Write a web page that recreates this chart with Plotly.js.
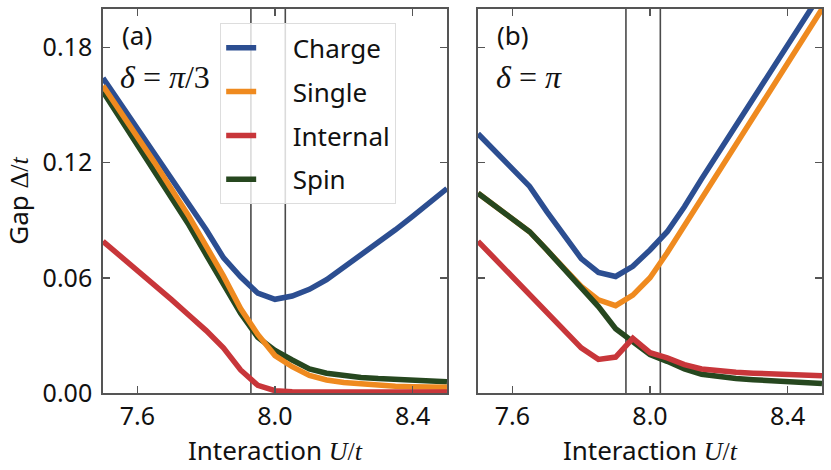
<!DOCTYPE html>
<html>
<head>
<meta charset="utf-8">
<script src="https://cdn.plot.ly/plotly-3.0.1.min.js"></script>
<style>html,body{margin:0;padding:0;background:#fff;}#chart{width:831px;height:470px;}</style>
</head>
<body>
<div id="chart"></div>
<script>
// Interaction values (shared grid)
const U = [7.50,7.55,7.60,7.65,7.70,7.75,7.80,7.85,7.90,7.95,8.00,8.05,8.10,8.15,8.20,8.25,8.30,8.35,8.40,8.45,8.50];

// Panel (a): delta = pi/3
const chargeA   = [0.164,0.151,0.138,0.125,0.1115,0.098,0.085,0.0705,0.0605,0.052,0.0488,0.0505,0.054,0.059,0.0655,0.072,0.078,0.085,0.092,0.099,0.1065];
const singleA   = [0.160,0.147,0.133,0.120,0.106,0.092,0.0765,0.061,0.0440,0.0305,0.0195,0.0137,0.0092,0.0068,0.0055,0.0046,0.0040,0.0035,0.0033,0.0031,0.0030];
const internalA = [0.079,0.0715,0.064,0.0565,0.0485,0.0405,0.0325,0.0235,0.012,0.004,0.0012,0.0007,0.0006,0.0006,0.0005,0.0005,0.0005,0.0005,0.0005,0.0005,0.0005];
const spinA     = [0.157,0.143,0.129,0.115,0.1015,0.0875,0.072,0.057,0.0415,0.029,0.0222,0.0172,0.0125,0.0103,0.009,0.0081,0.0075,0.0070,0.0066,0.0062,0.0059];

// Panel (b): delta = pi
const chargeB   = [0.135,0.1258,0.1167,0.1076,0.0945,0.0825,0.070,0.0628,0.0607,0.066,0.0745,0.084,0.097,0.1115,0.1255,0.140,0.154,0.168,0.181,0.195,0.209];
const singleB   = [0.104,0.0975,0.091,0.084,0.0745,0.065,0.0555,0.0485,0.0455,0.051,0.060,0.073,0.087,0.102,0.116,0.130,0.144,0.158,0.172,0.186,0.200];
const internalB = [0.079,0.0697,0.0605,0.0512,0.042,0.0327,0.0235,0.0175,0.0187,0.0285,0.021,0.0183,0.0148,0.0125,0.0115,0.0108,0.0103,0.0099,0.0095,0.0092,0.0090];
const spinB     = [0.104,0.0975,0.091,0.084,0.0745,0.065,0.0555,0.045,0.0335,0.0265,0.020,0.0165,0.0125,0.0098,0.0085,0.0075,0.0069,0.0063,0.0058,0.0054,0.0050];

// Transition markers (vertical lines)
const transitionU = [7.93, 8.03];

const names  = ['Charge','Single','Internal','Spin'];
const colors = {Charge:'#2c4e91', Single:'#ef8a1f', Internal:'#c8363a', Spin:'#26471f'};
const ranks  = {Charge:1, Single:2, Internal:3, Spin:4};

const seriesA = {Charge:chargeA, Single:singleA, Internal:internalA, Spin:spinA};
const seriesB = {Charge:chargeB, Single:singleB, Internal:internalB, Spin:spinB};

const orderA = ['Charge','Spin','Single','Internal'];
const orderB = ['Charge','Single','Spin','Internal'];

// invisible spacer so the legend text sits further right, as in the reference
const PAD = '<span style="color:rgba(255,255,255,0)">oo</span>';
const LW = 5.5;
const traces = [];
orderA.forEach(n => traces.push({
  x: U, y: seriesA[n], type:'scatter', mode:'lines', name:PAD + n,
  line:{color:colors[n], width:LW}, xaxis:'x', yaxis:'y',
  legendrank: ranks[n], legendgroup:n, showlegend:true
}));
orderB.forEach(n => traces.push({
  x: U, y: seriesB[n], type:'scatter', mode:'lines', name:n,
  line:{color:colors[n], width:LW}, xaxis:'x2', yaxis:'y2',
  legendgroup:n, showlegend:false
}));

const shapes = [];
['x','x2'].forEach((xa, i) => {
  transitionU.forEach(u => shapes.push({
    type:'line', xref:xa, yref:(i===0?'y domain':'y2 domain'),
    x0:u, x1:u, y0:0, y1:1, line:{color:'#4a4a4a', width:1.6}, layer:'below'
  }));
});

const FONT = 'Noto Sans, Open Sans, sans-serif';
const MATH = 'Liberation Serif, DejaVu Serif, serif';
const axisCommon = {
  range:[7.5,8.5], tickvals:[7.6,8.0,8.4], ticktext:['7.6','8.0','8.4'],
  ticks:'inside', ticklen:7, tickwidth:1.6, tickcolor:'#555',
  showline:true, linecolor:'#555', linewidth:1.8, mirror:'ticks',
  showgrid:false, zeroline:false, tickfont:{size:25, color:'#111', family:FONT},
  title:{text:'Interaction <span style="font-family:'+MATH+'"><i>U</i>/<i>t</i></span>', font:{size:26, color:'#111', family:FONT}, standoff:6}
};
const yCommon = {
  range:[0,0.2], tickvals:[0,0.06,0.12,0.18], ticktext:['0.00','0.06','0.12','0.18'],
  ticks:'inside', ticklen:7, tickwidth:1.6, tickcolor:'#555',
  showline:true, linecolor:'#555', linewidth:1.8, mirror:'ticks',
  showgrid:false, zeroline:false, tickfont:{size:25, color:'#111', family:FONT}
};

const layout = {
  width:831, height:470,
  margin:{l:103, r:9, t:9, b:77},
  paper_bgcolor:'#fff', plot_bgcolor:'#fff',
  font:{family:FONT, color:'#111'},
  xaxis: Object.assign({}, axisCommon, {domain:[0,0.4784], anchor:'y'}),
  xaxis2: Object.assign({}, axisCommon, {domain:[0.5216,1], anchor:'y2'}),
  yaxis: Object.assign({}, yCommon, {anchor:'x', ticklabelstandoff:4,
    title:{text:'Gap <span style="font-family:'+MATH+'">Δ/<i>t</i></span>', font:{size:26, color:'#111', family:FONT}, standoff:8}}),
  yaxis2: Object.assign({}, yCommon, {anchor:'x2', matches:'y', showticklabels:false}),
  shapes: shapes,
  showlegend:true,
  legend:{
    x:0.1627, y:0.963, xanchor:'left', yanchor:'top',
    bgcolor:'rgba(255,255,255,0.8)', bordercolor:'#dddddd', borderwidth:1.2,
    font:{size:26, color:'#111', family:FONT}, tracegroupgap:7,
    traceorder:'grouped'
  },
  annotations:[
    {xref:'x domain', yref:'y domain', x:0.05, y:0.985, xanchor:'left', yanchor:'top', showarrow:false,
     text:'(a)', font:{size:26, color:'#111', family:FONT}},
    {xref:'x domain', yref:'y domain', x:0.045, y:0.822, xanchor:'left', yanchor:'middle', showarrow:false,
     text:'<i>δ</i> = <i>π</i>/3', font:{size:32, color:'#111', family:MATH}},
    {xref:'x2 domain', yref:'y2 domain', x:0.05, y:0.985, xanchor:'left', yanchor:'top', showarrow:false,
     text:'(b)', font:{size:26, color:'#111', family:FONT}},
    {xref:'x2 domain', yref:'y2 domain', x:0.045, y:0.822, xanchor:'left', yanchor:'middle', showarrow:false,
     text:'<i>δ</i> = <i>π</i>', font:{size:32, color:'#111', family:MATH}}
  ]
};

Plotly.newPlot('chart', traces, layout, {displayModeBar:false, staticPlot:true});
</script>
</body>
</html>
